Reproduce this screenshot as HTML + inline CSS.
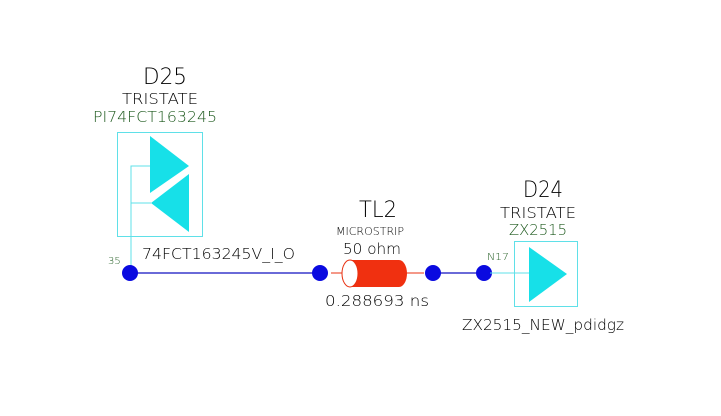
<!DOCTYPE html>
<html><head><meta charset="utf-8"><style>
html,body{margin:0;padding:0;background:#fff;}
svg{display:block;}
text{font-family:"DejaVu Sans","Liberation Sans",sans-serif;font-weight:200;}
</style></head><body>
<svg width="721" height="416" viewBox="0 0 721 416" xmlns="http://www.w3.org/2000/svg">
<!-- D25 -->
<text x="165" y="84" font-size="22" text-anchor="middle" textLength="44" lengthAdjust="spacingAndGlyphs">D25</text>
<text x="160" y="104" font-size="15" text-anchor="middle" textLength="76" lengthAdjust="spacingAndGlyphs">TRISTATE</text>
<text x="155" y="122" font-size="15" fill="#1e5a1e" text-anchor="middle" textLength="124" lengthAdjust="spacingAndGlyphs">PI74FCT163245</text>
<rect x="117.5" y="132.5" width="85" height="104" fill="none" stroke="#5fe0e8" stroke-width="1"/>
<polygon points="150,136 189,166 150,193" fill="#17e0e8"/>
<polygon points="189,174 189,232 151,203" fill="#17e0e8"/>
<polyline points="150,166 131,166 131,273" fill="none" stroke="#5fe0e8" stroke-width="1"/>
<line x1="131" y1="203" x2="151" y2="203" stroke="#5fe0e8" stroke-width="1"/>
<text x="108" y="264" font-size="10" fill="#1e5a1e">35</text>
<text x="142" y="259" font-size="15" textLength="153" lengthAdjust="spacingAndGlyphs">74FCT163245V_I_O</text>
<line x1="130" y1="273" x2="320" y2="273" stroke="#1010c0" stroke-width="1.3"/>
<circle cx="130" cy="273" r="8" fill="#0a0ae0"/>
<circle cx="320" cy="273" r="8" fill="#0a0ae0"/>
<!-- TL2 -->
<text x="378" y="217" font-size="22" text-anchor="middle" textLength="38" lengthAdjust="spacingAndGlyphs">TL2</text>
<text x="370" y="235" font-size="11" text-anchor="middle" textLength="68" lengthAdjust="spacingAndGlyphs">MICROSTRIP</text>
<text x="372" y="254" font-size="15" text-anchor="middle" textLength="58" lengthAdjust="spacingAndGlyphs">50 ohm</text>
<line x1="331" y1="273" x2="342" y2="273" stroke="#e83010" stroke-width="1"/>
<line x1="406" y1="273" x2="424" y2="273" stroke="#e83010" stroke-width="1"/>
<path d="M350,260 L399,260 A8,13.5 0 0 1 399,287 L350,287 Z" fill="#f03010"/>
<ellipse cx="350" cy="273.5" rx="8" ry="13.5" fill="#fff" stroke="#e83010" stroke-width="1"/>
<text x="377" y="306" font-size="15" text-anchor="middle" textLength="104" lengthAdjust="spacingAndGlyphs">0.288693 ns</text>
<line x1="433" y1="273" x2="484" y2="273" stroke="#1010c0" stroke-width="1.3"/>
<circle cx="433" cy="273" r="8" fill="#0a0ae0"/>
<circle cx="484" cy="273" r="8" fill="#0a0ae0"/>
<!-- D24 -->
<text x="543" y="197" font-size="22" text-anchor="middle" textLength="40" lengthAdjust="spacingAndGlyphs">D24</text>
<text x="538" y="218" font-size="15" text-anchor="middle" textLength="76" lengthAdjust="spacingAndGlyphs">TRISTATE</text>
<text x="538" y="235" font-size="15" fill="#1e5a1e" text-anchor="middle" textLength="58" lengthAdjust="spacingAndGlyphs">ZX2515</text>
<text x="487" y="260" font-size="10" fill="#1e5a1e" textLength="22" lengthAdjust="spacingAndGlyphs">N17</text>
<line x1="490" y1="273" x2="529" y2="273" stroke="#5fe0e8" stroke-width="1"/>
<rect x="514.5" y="241.5" width="63" height="65" fill="none" stroke="#5fe0e8" stroke-width="1"/>
<polygon points="529,247 567,274 529,302" fill="#17e0e8"/>
<text x="543" y="330" font-size="15" text-anchor="middle" textLength="162" lengthAdjust="spacingAndGlyphs">ZX2515_NEW_pdidgz</text>
</svg>
</body></html>
